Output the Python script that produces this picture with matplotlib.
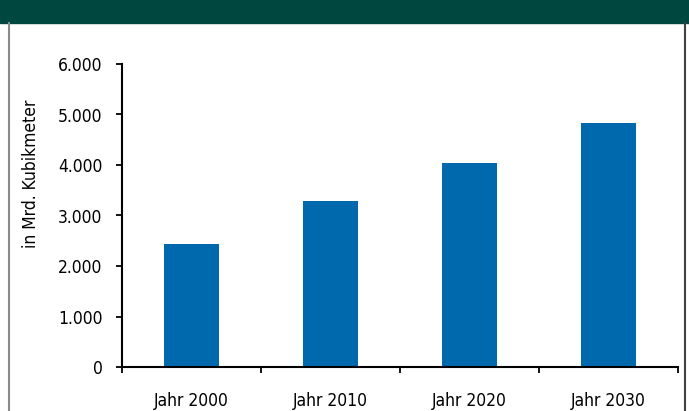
import matplotlib
matplotlib.use("Agg")
from matplotlib import pyplot as plt
from matplotlib.ticker import FuncFormatter, FixedLocator, NullFormatter
from matplotlib.patches import Rectangle
from matplotlib.lines import Line2D

categories = ["Jahr 2000", "Jahr 2010", "Jahr 2020", "Jahr 2030"]
values = [2430, 3290, 4040, 4830]
y_ticks = [0, 1000, 2000, 3000, 4000, 5000, 6000]
y_label = "in Mrd. Kubikmeter"

plt.rcParams["font.family"] = ["Liberation Sans Narrow", "DejaVu Sans"]
plt.rcParams["font.stretch"] = "condensed"

fig = plt.figure(figsize=(6.89, 4.11), dpi=100)
W, H = 689, 411

# dark green banner at top and grey frame
fig.patches.append(Rectangle((0, 1 - 23 / H), 1, 23 / H, transform=fig.transFigure,
                             color="#00483f", zorder=0))
fig.lines.append(Line2D([9 / W, 9 / W], [0, 1 - 23 / H], transform=fig.transFigure,
                        color="#8a8a8a", lw=1.5))
fig.lines.append(Line2D([685 / W, 685 / W], [0, 1 - 23 / H], transform=fig.transFigure,
                        color="#404040", lw=1.5))

ax = fig.add_axes([122 / W, 1 - 367 / H, 556 / W, 303 / H])
x = list(range(len(categories)))
ax.bar(x, values, width=0.4, color="#0069ae")

ax.set_xlim(-0.5, len(categories) - 0.5)
ax.set_ylim(0, 6000)
ax.set_yticks(y_ticks)
ax.yaxis.set_major_formatter(FuncFormatter(lambda v, p: f"{int(v):,}".replace(",", ".")))

# x ticks at category borders, labels centered
ax.xaxis.set_major_locator(FixedLocator([i - 0.5 for i in range(len(categories) + 1)]))
ax.xaxis.set_major_formatter(NullFormatter())
ax.xaxis.set_minor_locator(FixedLocator(x))
ax.set_xticklabels(categories, minor=True)
ax.tick_params(axis="x", which="minor", length=0, pad=18, labelsize=12.5)
ax.tick_params(axis="x", which="major", length=4, width=1.3, direction="out")
ax.tick_params(axis="y", length=4, width=1.3, pad=10, labelsize=12.5)

for s in ["top", "right"]:
    ax.spines[s].set_visible(False)
for s in ["left", "bottom"]:
    ax.spines[s].set_linewidth(1.5)

ax.set_ylabel(y_label, fontsize=12.5)
ax.yaxis.set_label_coords(-0.147, 0.637)

fig.savefig("out.png", dpi=100)
